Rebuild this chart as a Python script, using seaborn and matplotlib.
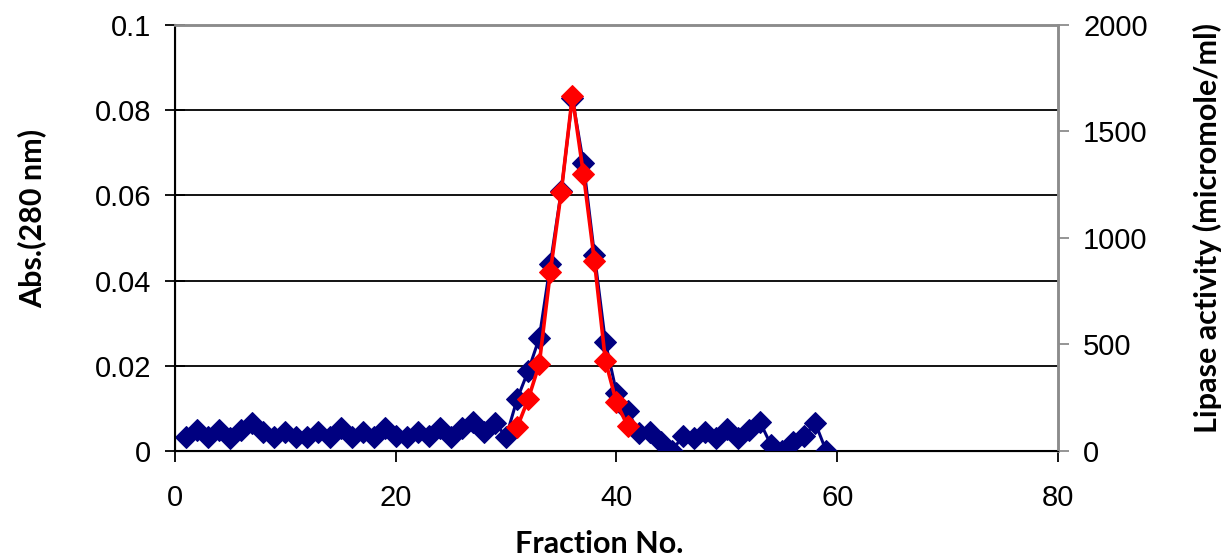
import matplotlib
matplotlib.use("Agg")
import matplotlib.pyplot as plt
import seaborn as sns

# Abs. (280 nm) per fraction
fraction = list(range(1, 60))
absorbance = [
    0.0033, 0.0049, 0.0033, 0.0049, 0.0030, 0.0049, 0.0066, 0.0045, 0.0033, 0.0045,
    0.0033, 0.0033, 0.0045, 0.0033, 0.0053, 0.0033, 0.0045, 0.0033, 0.0053, 0.0036,
    0.0033, 0.0045, 0.0036, 0.0053, 0.0033, 0.0053, 0.0068, 0.0045, 0.0066, 0.0033,
    0.0122, 0.0188, 0.0265, 0.0438, 0.0611, 0.0828, 0.0676, 0.0461, 0.0255, 0.0137,
    0.0095, 0.0043, 0.0044, 0.0020, 0.0000, 0.0034, 0.0031, 0.0044, 0.0031, 0.0052,
    0.0031, 0.0050, 0.0068, 0.0014, 0.0000, 0.0021, 0.0034, 0.0066, 0.0000,
]

# lipase activity (micromole/ml)
act_fraction = list(range(31, 42))
activity = [111, 243, 407, 838, 1218, 1665, 1302, 892, 422, 228, 118]

plt.rcParams['font.family'] = ['Liberation Sans', 'DejaVu Sans']

fig = plt.figure(figsize=(12.22, 5.58), dpi=100)
ax = fig.add_axes([0.1432, 0.1918, 0.7226, 0.7634])
ax2 = ax.twinx()

sns.lineplot(x=fraction, y=absorbance, ax=ax, color='#000080', linewidth=2.2,
             marker='D', markersize=11, markeredgecolor='#000080', zorder=3)
sns.lineplot(x=act_fraction, y=activity, ax=ax2, color='#FF0000', linewidth=2.6,
             marker='D', markersize=11, markeredgecolor='#FF0000', zorder=4)

ax.set_xlim(0, 80)
ax.set_ylim(0, 0.1)
ax2.set_ylim(0, 2000)
ax.set_xticks([0, 20, 40, 60, 80])
ax.set_yticks([0, 0.02, 0.04, 0.06, 0.08, 0.1])
ax.set_yticklabels(['0', '0.02', '0.04', '0.06', '0.08', '0.1'])
ax2.set_yticks([0, 500, 1000, 1500, 2000])

for y in [0.02, 0.04, 0.06, 0.08]:
    ax.axhline(y, color='black', linewidth=1.3, zorder=1)

ax.spines['left'].set_color('black')
ax.spines['left'].set_linewidth(1.5)
ax.spines['bottom'].set_color('black')
ax.spines['bottom'].set_linewidth(1.5)
for a in (ax, ax2):
    a.spines['top'].set_color('#8c8c8c')
    a.spines['top'].set_linewidth(1.8)
    a.spines['right'].set_color('#8c8c8c')
    a.spines['right'].set_linewidth(1.8)
    a.set_facecolor('none')

ax.tick_params(axis='y', direction='inout', length=14, width=1.3, labelsize=21, pad=10)
ax.tick_params(axis='x', direction='out', length=8, width=1.3, labelsize=21, pad=16)
ax2.tick_params(axis='y', direction='out', length=8, width=1.3, color='#8c8c8c',
                labelsize=21, pad=10)

ax.set_xlabel('Fraction No.', fontsize=22, fontweight='bold', family='Lato')
ax.set_ylabel('Abs.(280 nm)', fontsize=22, fontweight='bold', family='Lato')
ax2.set_ylabel('Lipase activity (micromole/ml)', fontsize=22, fontweight='bold',
               family='Lato')

# label positions as in the original figure
ax.xaxis.set_label_coords(0.481, -0.218)
ax.xaxis.label.set_va('center')
ax.yaxis.set_label_coords(-0.162, 0.545)
ax.yaxis.label.set_va('center')
ax2.yaxis.set_label_coords(1.169, 0.523)
ax2.yaxis.label.set_va('center')

ax2.set_zorder(ax.get_zorder() + 1)

fig.savefig('out.png', dpi=100)
